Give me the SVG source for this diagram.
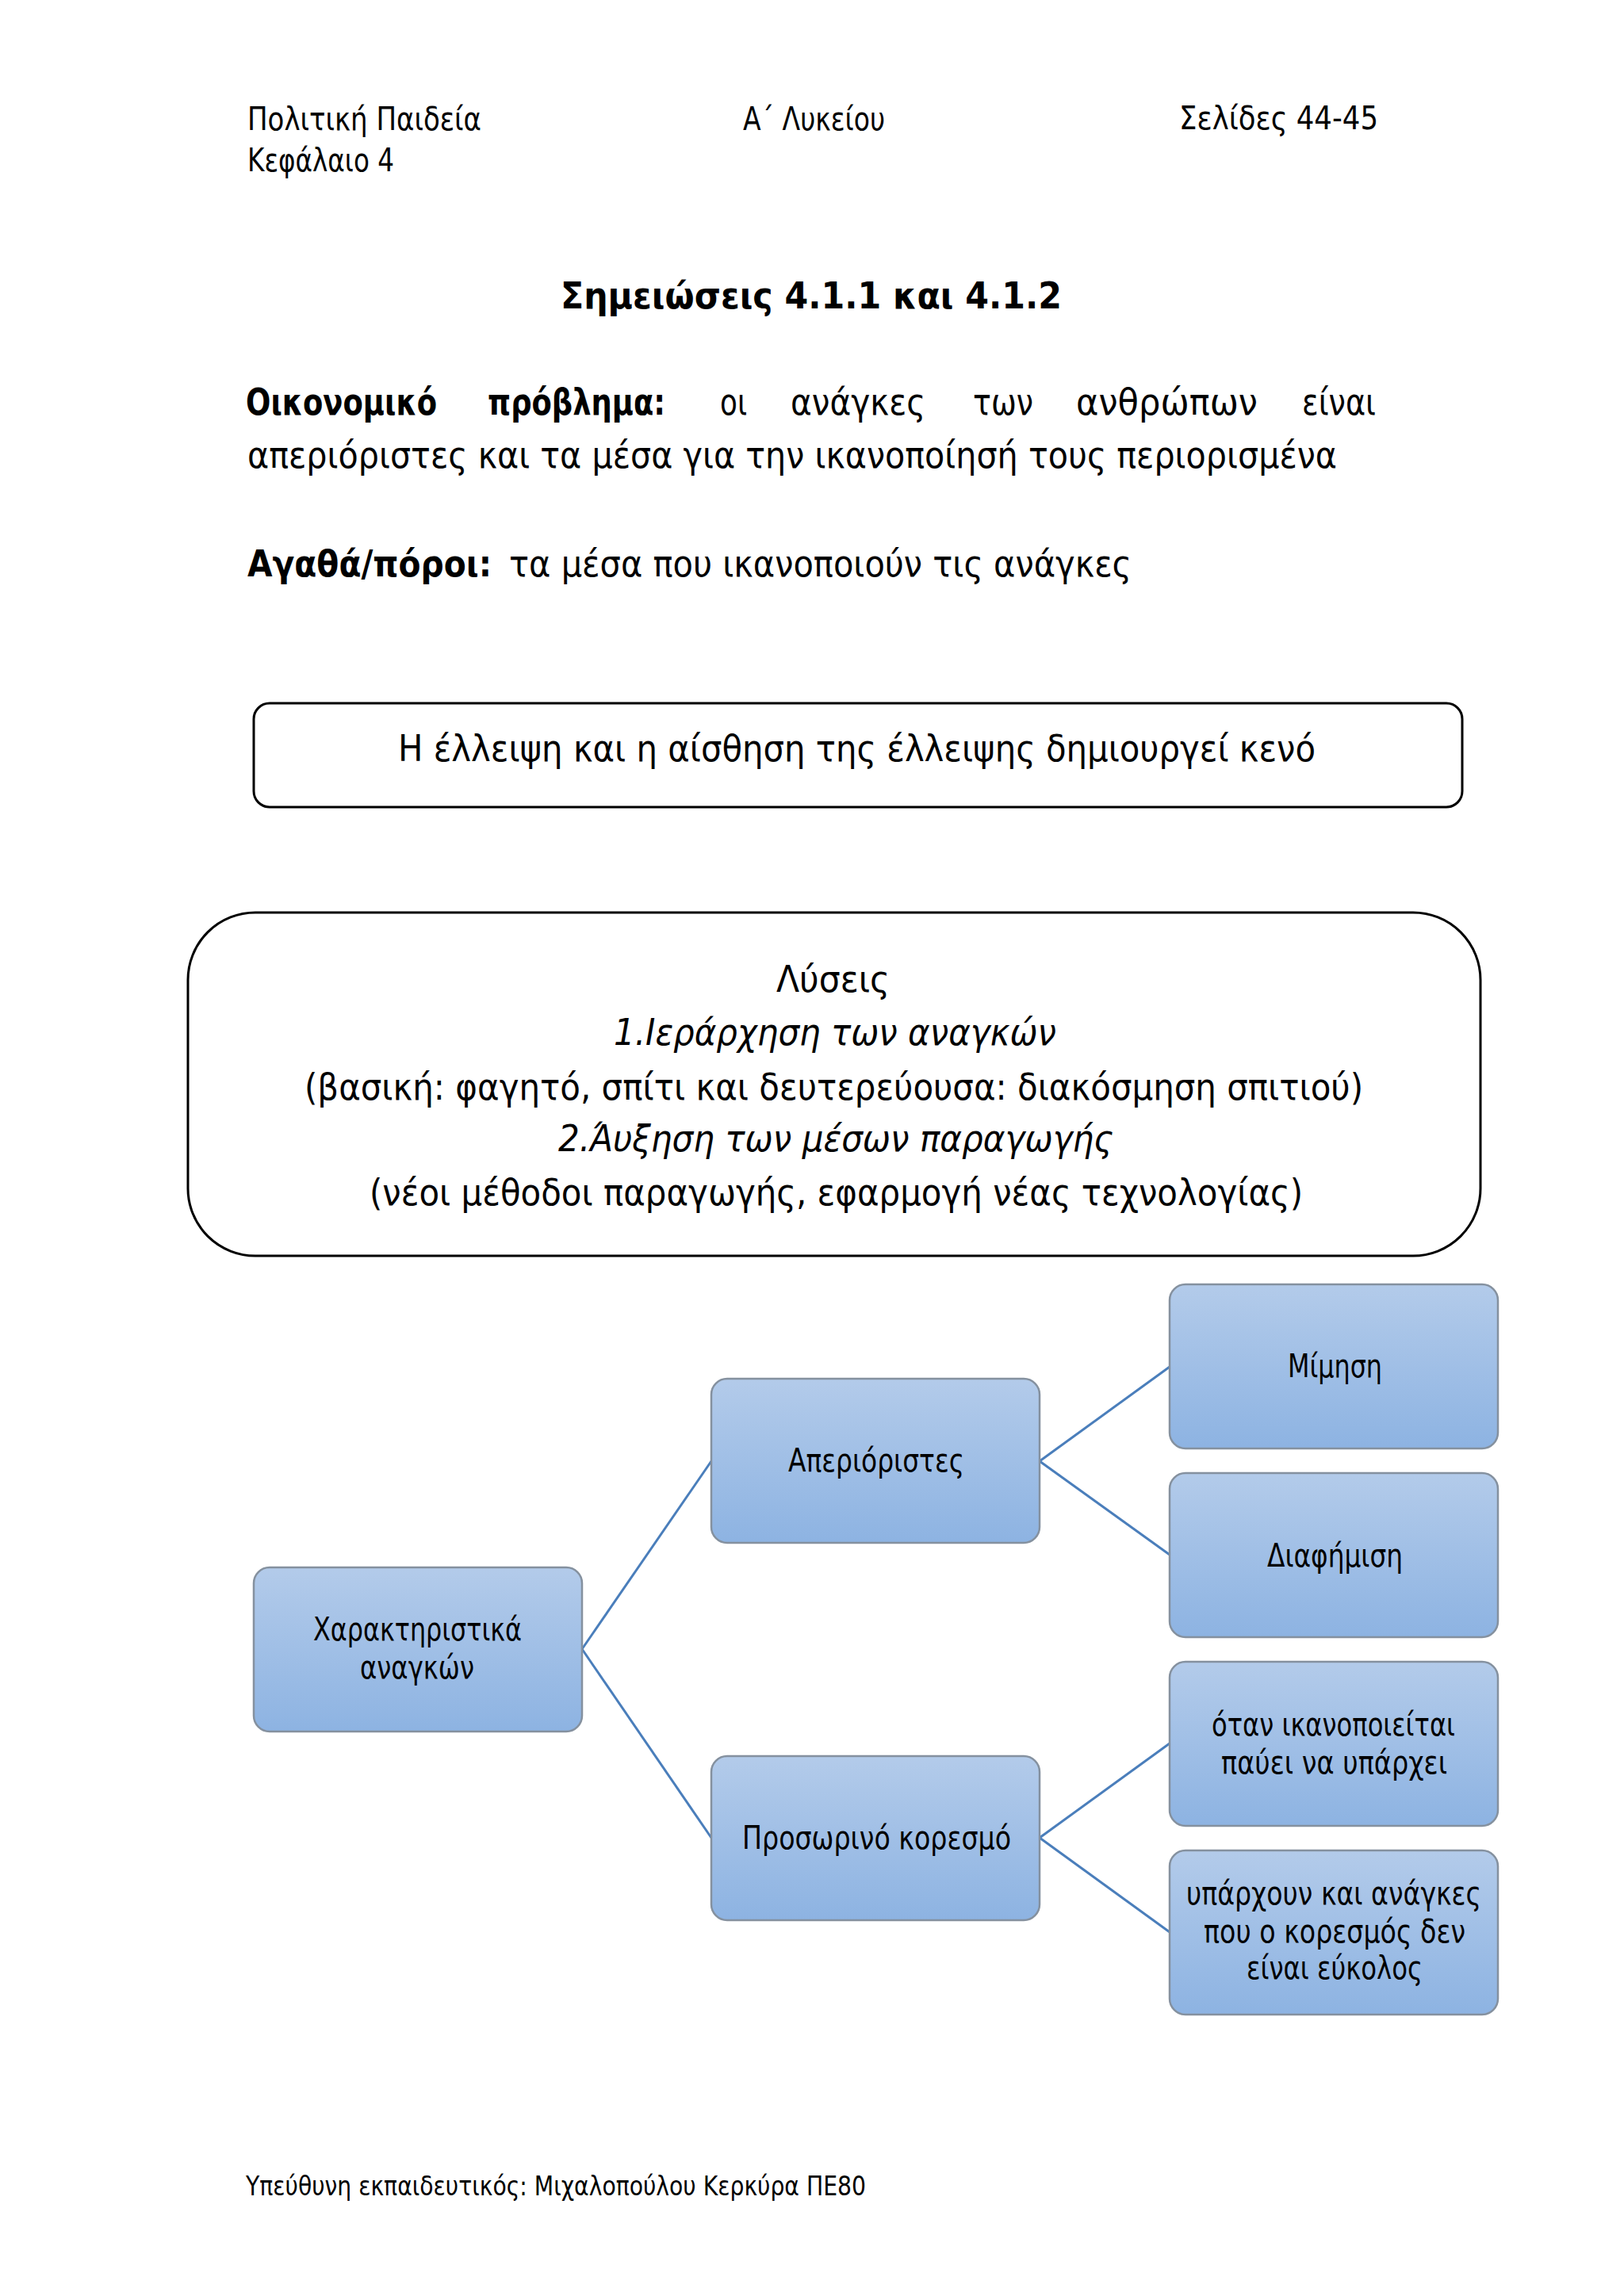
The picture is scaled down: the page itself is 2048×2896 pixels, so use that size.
<svg xmlns="http://www.w3.org/2000/svg" width="2048" height="2896" viewBox="0 0 2048 2896">
<defs>
<linearGradient id="nodeGrad" x1="0" y1="0" x2="0" y2="1">
<stop offset="0" stop-color="#b3cbea"/>
<stop offset="1" stop-color="#8db3e2"/>
</linearGradient>
<style>
text{font-family:"DejaVu Sans","Noto Sans",sans-serif;fill:#000;}
.hdr{font-size:40px;}
.body{font-size:47px;}
.b{font-weight:bold;}
.it{font-style:italic;}
.node{font-size:41px;}
.foot{font-size:34px;}
.nbox{fill:url(#nodeGrad);stroke:#85919f;stroke-width:2.5;}
.frame{fill:#fff;stroke:#000;stroke-width:3;}
.conn{stroke:#4a7ebb;stroke-width:3;fill:none;}
</style>
</defs>
<rect width="2048" height="2896" fill="#fff"/>

<g id="header">
<text class="hdr" x="312" y="164" textLength="295" lengthAdjust="spacingAndGlyphs">Πολιτική Παιδεία</text>
<text class="hdr" x="312" y="216" textLength="185" lengthAdjust="spacingAndGlyphs">Κεφάλαιο 4</text>
<text class="hdr" x="937" y="164" textLength="179" lengthAdjust="spacingAndGlyphs">Α΄ Λυκείου</text>
<text class="hdr" x="1487" y="163" textLength="251" lengthAdjust="spacingAndGlyphs">Σελίδες 44-45</text>
</g>

<g id="title">
<text class="body b" x="707" y="389" textLength="632" lengthAdjust="spacingAndGlyphs">Σημειώσεις 4.1.1 και 4.1.2</text>
</g>

<g id="definitions">
<text class="body b" x="310" y="523" textLength="241" lengthAdjust="spacingAndGlyphs">Οικονομικό</text>
<text class="body b" x="615" y="523" textLength="224" lengthAdjust="spacingAndGlyphs">πρόβλημα:</text>
<text class="body" x="908" y="523" textLength="34" lengthAdjust="spacingAndGlyphs">οι</text>
<text class="body" x="997" y="523" textLength="170" lengthAdjust="spacingAndGlyphs">ανάγκες</text>
<text class="body" x="1227" y="523" textLength="76" lengthAdjust="spacingAndGlyphs">των</text>
<text class="body" x="1357" y="523" textLength="229" lengthAdjust="spacingAndGlyphs">ανθρώπων</text>
<text class="body" x="1642" y="523" textLength="93" lengthAdjust="spacingAndGlyphs">είναι</text>
<text class="body" x="312" y="590" textLength="1374" lengthAdjust="spacingAndGlyphs">απεριόριστες και τα μέσα για την ικανοποίησή τους περιορισμένα</text>
<text class="body b" x="312" y="727" textLength="308" lengthAdjust="spacingAndGlyphs">Αγαθά/πόροι:</text>
<text class="body" x="642" y="727" textLength="785" lengthAdjust="spacingAndGlyphs">τα μέσα που ικανοποιούν τις ανάγκες</text>
</g>

<g id="box-elleipsi">
<rect class="frame" x="320" y="887" width="1524" height="131" rx="20" ry="20"/>
<text class="body" x="502" y="960" textLength="1157" lengthAdjust="spacingAndGlyphs">Η έλλειψη και η αίσθηση της έλλειψης δημιουργεί κενό</text>
</g>

<g id="box-lyseis">
<rect class="frame" x="237" y="1151" width="1630" height="433" rx="85" ry="85"/>
<text class="body" x="979" y="1251" textLength="143" lengthAdjust="spacingAndGlyphs">Λύσεις</text>
<text class="body it" x="774" y="1318" textLength="558" lengthAdjust="spacingAndGlyphs">1.Ιεράρχηση των αναγκών</text>
<text class="body" x="384" y="1387" textLength="1335" lengthAdjust="spacingAndGlyphs">(βασική: φαγητό, σπίτι και δευτερεύουσα: διακόσμηση σπιτιού)</text>
<text class="body it" x="704" y="1452" textLength="700" lengthAdjust="spacingAndGlyphs">2.Άυξηση των μέσων παραγωγής</text>
<text class="body" x="466" y="1520" textLength="1177" lengthAdjust="spacingAndGlyphs">(νέοι μέθοδοι παραγωγής, εφαρμογή νέας τεχνολογίας)</text>
</g>

<g id="connectors">
<line class="conn" x1="734" y1="2080" x2="897" y2="1843"/>
<line class="conn" x1="734" y1="2080" x2="897" y2="2318"/>
<line class="conn" x1="1311" y1="1843" x2="1475" y2="1724"/>
<line class="conn" x1="1311" y1="1843" x2="1475" y2="1961"/>
<line class="conn" x1="1311" y1="2318" x2="1475" y2="2199"/>
<line class="conn" x1="1311" y1="2318" x2="1475" y2="2437"/>
</g>

<g id="node-xaraktiristika">
<rect class="nbox" x="320" y="1977" width="414" height="207" rx="20" ry="20"/>
<text class="node" x="395" y="2069" textLength="263" lengthAdjust="spacingAndGlyphs">Χαρακτηριστικά</text>
<text class="node" x="454" y="2117" textLength="144" lengthAdjust="spacingAndGlyphs">αναγκών</text>
</g>

<g id="node-aperioristes">
<rect class="nbox" x="897" y="1739" width="414" height="207" rx="20" ry="20"/>
<text class="node" x="994" y="1856" textLength="222" lengthAdjust="spacingAndGlyphs">Απεριόριστες</text>
</g>

<g id="node-prosorino">
<rect class="nbox" x="897" y="2215" width="414" height="207" rx="20" ry="20"/>
<text class="node" x="936" y="2332" textLength="339" lengthAdjust="spacingAndGlyphs">Προσωρινό κορεσμό</text>
</g>

<g id="node-mimisi">
<rect class="nbox" x="1475" y="1620" width="414" height="207" rx="20" ry="20"/>
<text class="node" x="1624" y="1737" textLength="119" lengthAdjust="spacingAndGlyphs">Μίμηση</text>
</g>

<g id="node-diafimisi">
<rect class="nbox" x="1475" y="1858" width="414" height="207" rx="20" ry="20"/>
<text class="node" x="1598" y="1976" textLength="171" lengthAdjust="spacingAndGlyphs">Διαφήμιση</text>
</g>

<g id="node-otan">
<rect class="nbox" x="1475" y="2096" width="414" height="207" rx="20" ry="20"/>
<text class="node" x="1528" y="2189" textLength="307" lengthAdjust="spacingAndGlyphs">όταν ικανοποιείται</text>
<text class="node" x="1540" y="2237" textLength="285" lengthAdjust="spacingAndGlyphs">παύει να υπάρχει</text>
</g>

<g id="node-yparxoun">
<rect class="nbox" x="1475" y="2334" width="414" height="207" rx="20" ry="20"/>
<text class="node" x="1496" y="2402" textLength="372" lengthAdjust="spacingAndGlyphs">υπάρχουν και ανάγκες</text>
<text class="node" x="1518" y="2450" textLength="330" lengthAdjust="spacingAndGlyphs">που ο κορεσμός δεν</text>
<text class="node" x="1572" y="2496" textLength="222" lengthAdjust="spacingAndGlyphs">είναι εύκολος</text>
</g>

<g id="footer">
<text class="foot" x="310" y="2769" textLength="782" lengthAdjust="spacingAndGlyphs">Υπεύθυνη εκπαιδευτικός: Μιχαλοπούλου Κερκύρα ΠΕ80</text>
</g>
</svg>
